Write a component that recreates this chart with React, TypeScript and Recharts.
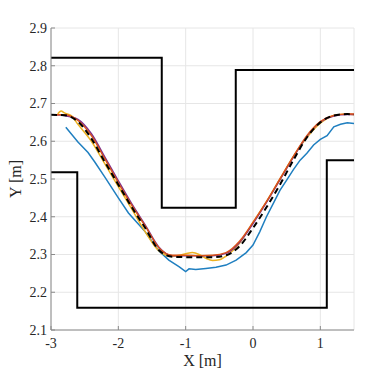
import { CartesianGrid, Line, LineChart, XAxis, YAxis } from "recharts";

// corridor walls (corner points)
const upperWallX = [-3, -1.355, -1.355, -0.256, -0.256, 1.5];
const upperWallY = [2.821, 2.821, 2.424, 2.424, 2.789, 2.789];
const lowerWallX = [-3, -2.61, -2.61, 1.096, 1.096, 1.5];
const lowerWallY = [2.518, 2.518, 2.159, 2.159, 2.55, 2.55];

// reference path (black dashed)
const refX = [-3, -2.8, -2.6, -2.4, -2.2, -2.0, -1.8, -1.6, -1.4, -1.2, -1.0, -0.8, -0.6, -0.4, -0.2, 0, 0.2, 0.4, 0.6, 0.8, 1.0, 1.2, 1.4, 1.5];
const refY = [2.67, 2.669, 2.652, 2.607, 2.545, 2.485, 2.425, 2.37, 2.312, 2.294, 2.293, 2.293, 2.293, 2.298, 2.322, 2.37, 2.425, 2.485, 2.55, 2.61, 2.65, 2.668, 2.672, 2.671];

const redX = [-2.95, -2.8, -2.6, -2.4, -2.2, -2.0, -1.8, -1.6, -1.4, -1.2, -1.0, -0.8, -0.6, -0.4, -0.2, 0, 0.2, 0.4, 0.6, 0.8, 1.0, 1.2, 1.4, 1.5];
const redY = [2.67, 2.67, 2.655, 2.615, 2.553, 2.49, 2.43, 2.375, 2.318, 2.298, 2.298, 2.297, 2.298, 2.305, 2.335, 2.385, 2.44, 2.5, 2.56, 2.615, 2.652, 2.668, 2.672, 2.672];

const purpleX = [-2.95, -2.8, -2.6, -2.4, -2.2, -2.0, -1.8, -1.6, -1.4, -1.2, -1.0, -0.8, -0.6, -0.4, -0.2, 0, 0.2, 0.4, 0.6, 0.8, 1.0, 1.2, 1.4, 1.5];
const purpleY = [2.67, 2.668, 2.658, 2.62, 2.558, 2.495, 2.434, 2.378, 2.32, 2.297, 2.297, 2.297, 2.297, 2.303, 2.332, 2.382, 2.438, 2.498, 2.558, 2.613, 2.651, 2.667, 2.671, 2.671];

const yellowX = [-2.9, -2.85, -2.8, -2.7, -2.6, -2.4, -2.2, -2.0, -1.8, -1.6, -1.4, -1.2, -1.0, -0.9, -0.8, -0.7, -0.6, -0.5, -0.4, -0.2, 0, 0.2, 0.4, 0.6, 0.8, 1.0, 1.1, 1.2, 1.4, 1.5];
const yellowY = [2.672, 2.68, 2.675, 2.668, 2.645, 2.6, 2.54, 2.48, 2.42, 2.36, 2.31, 2.295, 2.302, 2.305, 2.3, 2.29, 2.284, 2.286, 2.296, 2.33, 2.385, 2.44, 2.5, 2.56, 2.61, 2.648, 2.66, 2.668, 2.672, 2.67];

const blueX = [-2.78, -2.6, -2.45, -2.35, -2.2, -2.0, -1.85, -1.7, -1.6, -1.4, -1.25, -1.1, -1.0, -0.95, -0.85, -0.7, -0.55, -0.4, -0.25, -0.1, 0, 0.1, 0.2, 0.3, 0.4, 0.5, 0.6, 0.7, 0.8, 0.9, 1.0, 1.1, 1.2, 1.3, 1.4, 1.5];
const blueY = [2.637, 2.598, 2.57, 2.545, 2.505, 2.45, 2.41, 2.38, 2.36, 2.31, 2.285, 2.268, 2.255, 2.262, 2.26, 2.263, 2.266, 2.272, 2.285, 2.305, 2.325, 2.36, 2.4, 2.435, 2.47, 2.497, 2.525, 2.55, 2.568, 2.59, 2.605, 2.615, 2.638, 2.645, 2.649, 2.647];

const xTicks = [-3, -2, -1, 0, 1];
const yTicks = [2.1, 2.2, 2.3, 2.4, 2.5, 2.6, 2.7, 2.8, 2.9];

const pts = (xs: number[], ys: number[]) => xs.map((x, i) => ({ x, y: ys[i] }));

const font = "Liberation Serif";
const tickStyle = { fontFamily: font, fontSize: 14, fill: "#262626" };
const labelStyle = { fontFamily: font, fontSize: 16, fill: "#262626" };
const axisColor = "#8a8a8a";

export default function App() {
  return (
    <div style={{ width: 383, height: 364, fontFamily: font }}>
      <LineChart
        width={383}
        height={364}
        margin={{ top: 20, right: 37, bottom: 8, left: 0 }}
      >
        <CartesianGrid stroke="#e6e6e6" strokeWidth={1} />
        <XAxis
          dataKey="x"
          type="number"
          domain={[-3, 1.5]}
          ticks={xTicks}
          allowDataOverflow
          height={34}
          tickSize={-4}
          tickMargin={12}
          stroke={axisColor}
          tick={tickStyle}
          label={{
            value: "X [m]",
            position: "insideBottom",
            offset: -2,
            style: labelStyle,
          }}
        />
        <YAxis
          dataKey="y"
          type="number"
          domain={[2.1, 2.9]}
          ticks={yTicks}
          allowDataOverflow
          width={43}
          tickSize={-4}
          tickMargin={8}
          stroke={axisColor}
          tick={tickStyle}
          tickFormatter={(v: number) => v.toFixed(1)}
          label={{
            value: "Y [m]",
            angle: -90,
            position: "insideLeft",
            offset: 7,
            style: { ...labelStyle, textAnchor: "middle" },
          }}
        />
        <XAxis
          xAxisId="top"
          orientation="top"
          dataKey="x"
          type="number"
          domain={[-3, 1.5]}
          ticks={xTicks}
          allowDataOverflow
          height={0}
          tickSize={-4}
          stroke={axisColor}
          tickFormatter={() => ""}
        />
        <YAxis
          yAxisId="right"
          orientation="right"
          dataKey="y"
          type="number"
          domain={[2.1, 2.9]}
          ticks={yTicks}
          allowDataOverflow
          width={0}
          tickSize={-4}
          stroke={axisColor}
          tickFormatter={() => ""}
        />
        <Line data={pts(upperWallX, upperWallY)} dataKey="y" type="linear" stroke="#000" strokeWidth={2} dot={false} isAnimationActive={false} />
        <Line data={pts(lowerWallX, lowerWallY)} dataKey="y" type="linear" stroke="#000" strokeWidth={2} dot={false} isAnimationActive={false} />
        <Line data={pts(blueX, blueY)} dataKey="y" type="linear" stroke="#1f7fc0" strokeWidth={1.5} dot={false} isAnimationActive={false} />
        <Line data={pts(yellowX, yellowY)} dataKey="y" type="monotone" stroke="#EDB120" strokeWidth={1.5} dot={false} isAnimationActive={false} />
        <Line data={pts(purpleX, purpleY)} dataKey="y" type="monotone" stroke="#7E2F8E" strokeWidth={1.5} dot={false} isAnimationActive={false} />
        <Line data={pts(redX, redY)} dataKey="y" type="monotone" stroke="#D95319" strokeWidth={1.5} dot={false} isAnimationActive={false} />
        <Line data={pts(refX, refY)} dataKey="y" type="monotone" stroke="#000" strokeWidth={2} strokeDasharray="6 4" dot={false} isAnimationActive={false} />
      </LineChart>
    </div>
  );
}
